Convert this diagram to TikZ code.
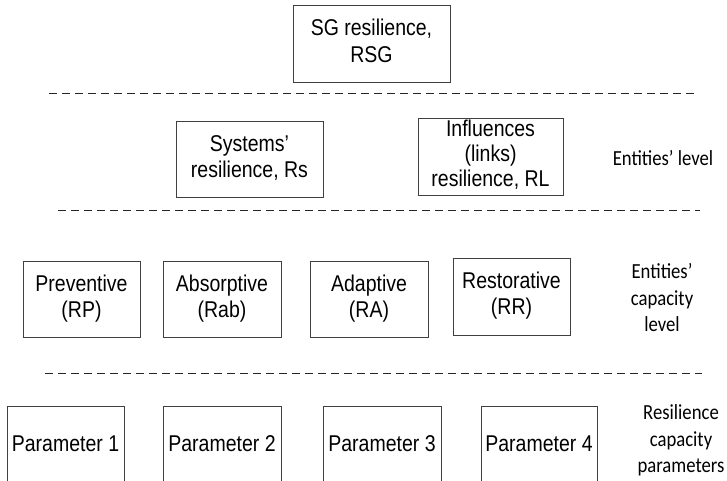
\documentclass[tikz,border=0pt]{standalone}
\usepackage{fontspec}
\usepackage{graphicx}
\setmainfont{Liberation Sans}
\newfontfamily\calib{Carlito}
\newcommand{\tallt}[2][22]{\scalebox{1}[1.17]{\fontsize{19.5}{#1}\selectfont\begin{tabular}{@{}c@{}}#2\end{tabular}}}
\newcommand{\talls}[1]{\scalebox{1}[1.15]{\calib\fontsize{18.7}{23}\selectfont\begin{tabular}{@{}c@{}}#1\end{tabular}}}
\begin{document}
\begin{tikzpicture}[x=1pt,y=-1pt,
  box/.style={draw=black!75,line width=0.8pt,inner sep=0pt,align=center},
  sidelabel/.style={inner sep=0pt,align=center},
  sep/.style={draw=black!85,line width=0.8pt,dash pattern=on 8pt off 5pt}]
\clip (0,0) rectangle (727,480);
\fill[white] (0,0) rectangle (727,480);
% level 1
\node[box,minimum width=157pt,minimum height=77pt] (sg) at (371.5,43.5) {\tallt[23]{SG resilience,\\RSG}};
\draw[sep] (49,93) -- (695,93);
% level 2
\node[box,minimum width=147pt,minimum height=76pt] (sys) at (249.5,159) {\tallt{Systems’\\resilience, Rs}};
\node[box,minimum width=145pt,minimum height=77pt] (inf) at (490.5,156.5) {\tallt[21.5]{Influences\\(links)\\resilience, RL}};
\node[sidelabel] (lvl) at (663,160) {\talls{Entities’ level}};
\draw[sep] (58,210) -- (700,210);
% level 3
\node[box,minimum width=117pt,minimum height=76pt] (prev) at (81.5,299) {\tallt{Preventive\\(RP)}};
\node[box,minimum width=118pt,minimum height=76pt] (abs) at (222,299) {\tallt{Absorptive\\(Rab)}};
\node[box,minimum width=118pt,minimum height=76pt] (ada) at (369,299) {\tallt{Adaptive\\(RA)}};
\node[box,minimum width=117pt,minimum height=77pt] (res) at (511.5,296.5) {\tallt{Restorative\\(RR)}};
\node[sidelabel] (cap) at (662,300) {\talls{Entities’\\capacity\\level}};
\draw[sep] (45,373) -- (702,373);
% level 4
\node[box,minimum width=117pt,minimum height=80pt] (p1) at (65.5,446) {\tallt{Parameter 1}};
\node[box,minimum width=118pt,minimum height=80pt] (p2) at (222,446) {\tallt{Parameter 2}};
\node[box,minimum width=118pt,minimum height=80pt] (p3) at (382,446) {\tallt{Parameter 3}};
\node[box,minimum width=116pt,minimum height=80pt] (p4) at (539,446) {\tallt{Parameter 4}};
\node[sidelabel] (par) at (681,441) {\talls{Resilience\\capacity\\parameters}};
\end{tikzpicture}
\end{document}
